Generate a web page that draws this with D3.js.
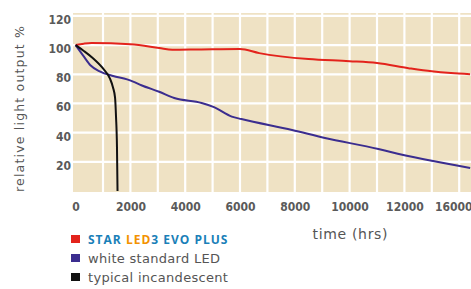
<!DOCTYPE html>
<html>
<head>
<meta charset="utf-8">
<script src="https://cdn.jsdelivr.net/npm/d3@7"></script>
<style>
  body { margin: 0; background: #fff; }
  svg { display: block; }
</style>
</head>
<body>
<svg id="chart" width="471" height="289"></svg>
<script>
// hours
var starHours = [0, 300, 580, 2000, 3050, 3530, 4500, 6000, 6700, 8500, 10000, 11000, 12150, 13000, 13700, 14400];
var starOutput = [100, 101, 101.5, 100.5, 98, 96.8, 97, 97.3, 94.5, 90.4, 89, 87.7, 84.2, 82, 80.8, 80];

var whiteHours = [0, 270, 550, 880, 1370, 1880, 2100, 2400, 3050, 3600, 4600, 5050, 5700, 6050, 7900, 9100, 11050, 11500, 14400];
var whiteOutput = [100, 93, 86, 82, 78.8, 76.5, 75, 72.5, 68, 63.7, 60.3, 57.5, 51, 49.3, 41.8, 36.3, 28.8, 26.7, 15.8];

var incHours = [0, 300, 635, 1000, 1255, 1365, 1440, 1475, 1510, 1530];
var incOutput = [100, 96, 91, 84, 77, 71, 64, 51, 30, 0];

var yTicks = [20, 40, 60, 80, 100, 120];
var xTicks = [0, 2000, 4000, 6000, 8000, 10000, 12000, 14000];
var xTickLabels = ['0', '2000', '4000', '6000', '8000', '10000', '12000', '16000'];
var gridHours = d3.range(1000, 15000, 1000);

var legendNames = ['STAR LED3 EVO PLUS', 'white standard LED', 'typical incandescent'];
var legendColors = ['#e3231c', '#3b2d8f', '#111111'];

var svg = d3.select('#chart');
var x = d3.scaleLinear().domain([0, 14000]).range([75.6, 459.2]);
var y = d3.scaleLinear().domain([0, 122]).range([191, 13]);

// beige plot area
svg.append('rect')
    .attr('x', 73).attr('y', y(122))
    .attr('width', 471 - 73).attr('height', y(0) - y(122) + 1)
    .style('fill', '#efe2c4');

// white grid
svg.selectAll('.vgrid').data(gridHours).enter().append('line')
    .attr('class', 'vgrid')
    .attr('x1', function (d) { return x(d); }).attr('x2', function (d) { return x(d); })
    .attr('y1', y(122)).attr('y2', y(0) + 1)
    .style('stroke', '#fff').style('stroke-width', 2.2);
svg.selectAll('.hgrid').data(yTicks).enter().append('line')
    .attr('class', 'hgrid')
    .attr('x1', 73).attr('x2', 471)
    .attr('y1', function (d) { return y(d); }).attr('y2', function (d) { return y(d); })
    .style('stroke', '#fff').style('stroke-width', 2.2);

// axes
var tickFont = '"DejaVu Sans Condensed", "DejaVu Sans", sans-serif';
var yAxis = svg.append('g')
    .attr('transform', 'translate(71,0)')
    .call(d3.axisLeft(y).tickValues(yTicks).tickSize(0).tickPadding(0));
var xAxis = svg.append('g')
    .attr('transform', 'translate(0,' + (y(0) + 9) + ')')
    .call(d3.axisBottom(x).tickValues(xTicks).tickSize(0).tickPadding(0)
        .tickFormat(function (d, i) { return xTickLabels[i]; }));
[yAxis, xAxis].forEach(function (ax) {
    ax.select('.domain').remove();
    ax.selectAll('text')
        .style('font-family', tickFont)
        .style('font-stretch', 'condensed')
        .style('font-weight', 'bold')
        .style('font-size', '12px')
        .style('fill', '#5a5a5a');
});
yAxis.selectAll('text').attr('dy', '0.62em');
xAxis.selectAll('text').attr('dy', '0.9em')
    .attr('dx', function (d, i) { return i == xTicks.length - 1 ? -6 : 0; });

// lines
var series = [
    { hours: starHours, output: starOutput, color: legendColors[0] },
    { hours: whiteHours, output: whiteOutput, color: legendColors[1] },
    { hours: incHours, output: incOutput, color: legendColors[2] }
];
var line = d3.line()
    .x(function (d) { return x(d[0]); })
    .y(function (d) { return y(d[1]); })
    .curve(d3.curveMonotoneX);
series.forEach(function (s) {
    svg.append('path')
        .datum(d3.zip(s.hours, s.output))
        .attr('d', line)
        .style('fill', 'none')
        .style('stroke', s.color)
        .style('stroke-width', 2)
        .style('stroke-linejoin', 'round');
});

// axis titles
svg.append('text')
    .attr('transform', 'translate(24,109) rotate(-90)')
    .attr('text-anchor', 'middle')
    .attr('textLength', 166)
    .style('font-family', '"DejaVu Sans", sans-serif')
    .style('font-size', '12.5px')
    .style('fill', '#555')
    .text('relative light output %');
svg.append('text')
    .attr('x', 350).attr('y', 239)
    .attr('text-anchor', 'middle')
    .attr('textLength', 75)
    .style('font-family', '"DejaVu Sans", sans-serif')
    .style('font-size', '14px')
    .style('fill', '#555')
    .text('time (hrs)');

// legend
var legend = svg.selectAll('.legend').data(legendNames).enter().append('g')
    .attr('class', 'legend')
    .attr('transform', function (d, i) { return 'translate(71,' + (235 + i * 19) + ')'; });
legend.append('rect')
    .attr('width', 9).attr('height', 8)
    .style('fill', function (d, i) { return legendColors[i]; });
legend.append('text')
    .attr('x', 17).attr('y', 8.5)
    .style('font-family', function (d, i) { return i == 0 ? '"Open Sans", sans-serif' : '"DejaVu Sans", sans-serif'; })
    .style('font-weight', function (d, i) { return i == 0 ? 'bold' : 'normal'; })
    .style('font-size', function (d, i) { return i == 0 ? '12px' : '13px'; })
    .style('letter-spacing', function (d, i) { return i == 0 ? '1px' : '0.3px'; })
    .style('fill', '#555')
    .each(function (d, i) {
        var t = d3.select(this);
        if (i == 0) {
            t.append('tspan').style('fill', '#1a7fb8').text('STAR ');
            t.append('tspan').style('fill', '#f39200').text('LED');
            t.append('tspan').style('fill', '#1a7fb8').text('3 EVO PLUS');
        } else {
            t.text(d);
        }
    });
</script>
</body>
</html>
